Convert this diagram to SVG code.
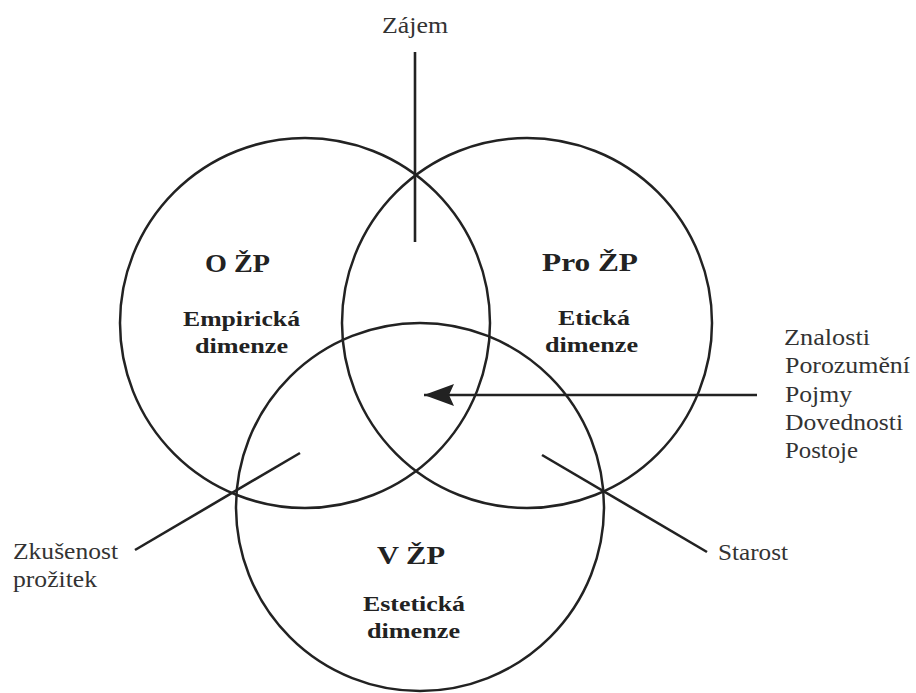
<svg xmlns="http://www.w3.org/2000/svg" width="916" height="693" viewBox="0 0 916 693">
  <style>
    .ring { fill: none; stroke: #222; stroke-width: 2.5; }
    .conn { fill: none; stroke: #222; stroke-width: 2.6; }
    .title { font-family: "Liberation Serif", "Times New Roman", serif; font-weight: bold; font-size: 26px; fill: #222; }
    .sub { font-family: "Liberation Serif", "Times New Roman", serif; font-weight: bold; font-size: 22px; fill: #222; }
    .lbl { font-family: "Liberation Serif", "Times New Roman", serif; font-size: 23px; fill: #333; }
  </style>
  <defs>
    <marker id="arrowhead" markerUnits="userSpaceOnUse" markerWidth="32" markerHeight="26" refX="31" refY="12" orient="auto">
      <polygon points="31,12 1,1 6,12 1,23" fill="#222"/>
    </marker>
  </defs>
  <rect width="916" height="693" fill="#fff"/>

  <g id="circle-o-zp">
    <circle class="ring" cx="305" cy="323" r="185"/>
    <text class="title" x="205" y="272" textLength="65" lengthAdjust="spacingAndGlyphs">O ŽP</text>
    <text class="sub" x="183" y="326" textLength="117" lengthAdjust="spacingAndGlyphs">Empirická</text>
    <text class="sub" x="195" y="353" textLength="93" lengthAdjust="spacingAndGlyphs">dimenze</text>
  </g>

  <g id="circle-pro-zp">
    <circle class="ring" cx="527" cy="323" r="185"/>
    <text class="title" x="542" y="271" textLength="96" lengthAdjust="spacingAndGlyphs">Pro ŽP</text>
    <text class="sub" x="558" y="325" textLength="72" lengthAdjust="spacingAndGlyphs">Etická</text>
    <text class="sub" x="545" y="352" textLength="93" lengthAdjust="spacingAndGlyphs">dimenze</text>
  </g>

  <g id="circle-v-zp">
    <circle class="ring" cx="420" cy="507" r="184"/>
    <text class="title" x="377" y="564" textLength="68" lengthAdjust="spacingAndGlyphs">V ŽP</text>
    <text class="sub" x="363" y="611" textLength="102" lengthAdjust="spacingAndGlyphs">Estetická</text>
    <text class="sub" x="367" y="638" textLength="93" lengthAdjust="spacingAndGlyphs">dimenze</text>
  </g>

  <g id="connectors">
    <line class="conn" x1="415" y1="52" x2="415" y2="242"/>
    <line class="conn" x1="300" y1="453" x2="135" y2="550"/>
    <line class="conn" x1="542" y1="455" x2="707" y2="552"/>
    <line class="conn" x1="757" y1="395" x2="424" y2="395" marker-end="url(#arrowhead)"/>
  </g>

  <g id="label-zajem">
    <text class="lbl" x="382" y="33" textLength="66" lengthAdjust="spacingAndGlyphs">Zájem</text>
  </g>

  <g id="label-zkusenost">
    <text class="lbl" x="13" y="559" textLength="105" lengthAdjust="spacingAndGlyphs">Zkušenost</text>
    <text class="lbl" x="13" y="587" textLength="84" lengthAdjust="spacingAndGlyphs">prožitek</text>
  </g>

  <g id="label-starost">
    <text class="lbl" x="718" y="560" textLength="70" lengthAdjust="spacingAndGlyphs">Starost</text>
  </g>

  <g id="label-znalosti">
    <text class="lbl" x="784" y="345" textLength="86" lengthAdjust="spacingAndGlyphs">Znalosti</text>
    <text class="lbl" x="785" y="373" textLength="125" lengthAdjust="spacingAndGlyphs">Porozumění</text>
    <text class="lbl" x="785" y="402" textLength="67" lengthAdjust="spacingAndGlyphs">Pojmy</text>
    <text class="lbl" x="785" y="430" textLength="118" lengthAdjust="spacingAndGlyphs">Dovednosti</text>
    <text class="lbl" x="785" y="458" textLength="73" lengthAdjust="spacingAndGlyphs">Postoje</text>
  </g>
</svg>
